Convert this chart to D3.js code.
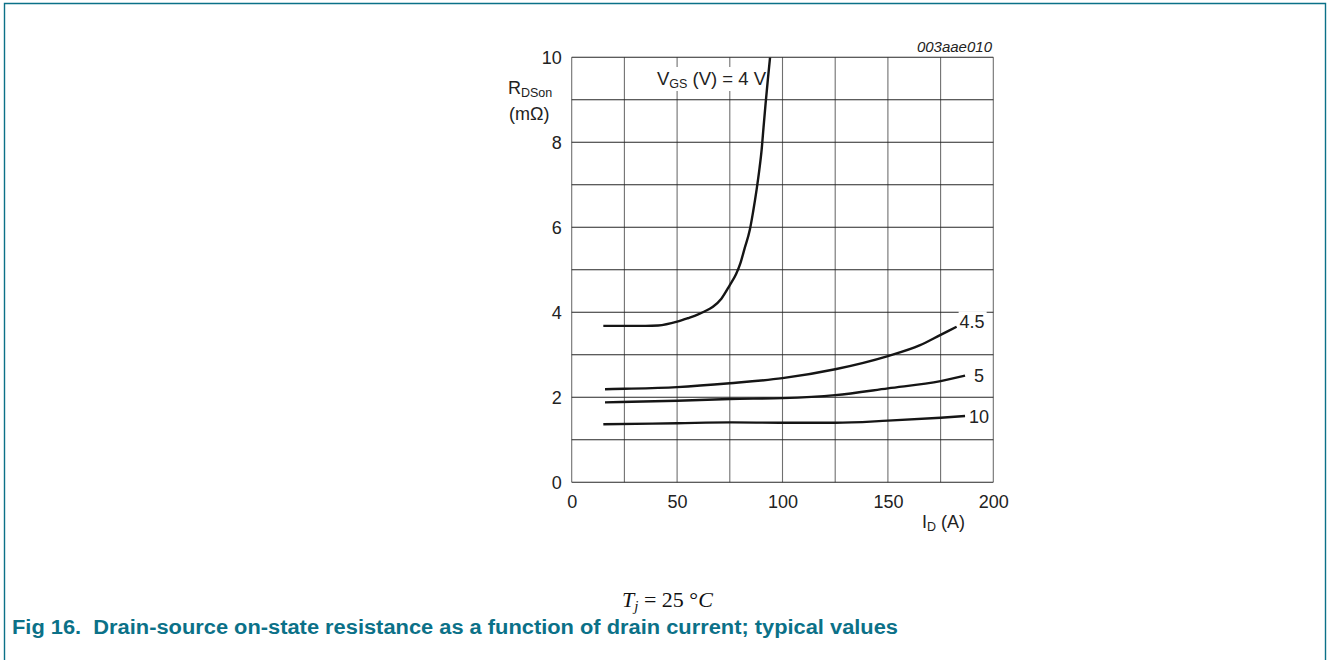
<!DOCTYPE html>
<html><head><meta charset="utf-8">
<script src="https://cdn.jsdelivr.net/npm/d3@7/dist/d3.min.js"></script>
<style>
body{margin:0;background:#fff;}
svg{display:block;font-family:"Liberation Sans",Arial,sans-serif;}
</style></head>
<body>
<svg id="c" width="1327" height="660"></svg>
<script>
// ---- data ----
const xTicks = [0, 50, 100, 150, 200];
const yTicks = [0, 2, 4, 6, 8, 10];
const xGrid = [0, 25, 50, 75, 100, 125, 150, 175, 200];
const yGrid = [0, 1, 2, 3, 4, 5, 6, 7, 8, 9, 10];

const vgs4_I = [15, 25, 35, 41, 50, 55, 60, 63, 67, 71, 75, 78, 80, 82, 84.5, 86, 87.7, 89, 90.1, 91, 92, 93, 94.1];
const vgs4_R = [3.68, 3.68, 3.68, 3.69, 3.78, 3.86, 3.95, 4.02, 4.13, 4.32, 4.64, 4.9, 5.15, 5.5, 5.94, 6.35, 6.88, 7.35, 7.82, 8.35, 8.92, 9.45, 10.0];
const vgs45_I = [15.8, 25, 50, 75, 100, 125, 150, 165, 175, 182.6];
const vgs45_R = [2.19, 2.2, 2.24, 2.33, 2.45, 2.66, 2.97, 3.22, 3.47, 3.66];
const vgs5_I = [15.8, 50, 75, 100, 125, 150, 175, 186.6];
const vgs5_R = [1.88, 1.92, 1.96, 1.98, 2.05, 2.21, 2.38, 2.51];
const vgs10_I = [15, 50, 75, 100, 125, 150, 175, 186.6];
const vgs10_R = [1.365, 1.39, 1.41, 1.40, 1.40, 1.45, 1.52, 1.56];
const seriesLabels = ["4", "4.5", "5", "10"];

// ---- drawing ----
const svg = d3.select("#c");
const teal = "#0b7188";
const FS = 18;
const SFS = 12.5;
const x = d3.scaleLinear().domain([0, 200]).range([571.7, 993.3]);
const y = d3.scaleLinear().domain([0, 10]).range([482.3, 57.3]);

// page frame
svg.append("path").attr("d", "M4.5,660 V3.5 H1325.5 V660")
  .attr("fill", "none").attr("stroke", teal).attr("stroke-width", 1.4);

const g = svg.append("g");
// grid
g.selectAll("line.v").data(xGrid).join("line")
  .attr("x1", d => x(d)).attr("x2", d => x(d)).attr("y1", y(0)).attr("y2", y(10))
  .attr("stroke", "#707070").attr("stroke-width", 1.1);
g.selectAll("line.h").data(yGrid).join("line")
  .attr("x1", x(0)).attr("x2", x(200)).attr("y1", d => y(d)).attr("y2", d => y(d))
  .attr("stroke", "#262626").attr("stroke-width", 1.1);

// axes tick labels via d3 axes (lines hidden)
const xa = g.append("g").attr("transform", `translate(0,${y(0)})`)
  .call(d3.axisBottom(x).tickValues(xTicks).tickSize(0).tickPadding(13).tickFormat(d3.format("d")));
const ya = g.append("g").attr("transform", `translate(${x(0)},0)`)
  .call(d3.axisLeft(y).tickValues(yTicks).tickSize(0).tickPadding(10).tickFormat(d3.format("d")));
[xa, ya].forEach(a => {
  a.select(".domain").remove();
  a.selectAll("text").attr("font-size", FS).attr("fill", "#222").attr("font-family", "Liberation Sans, Arial, sans-serif");
});
ya.selectAll("text").attr("dy", "0.36em");
xa.selectAll("text").attr("dy", "0.68em");

// axis titles
const yt = svg.append("text").attr("x", 508).attr("y", 93.5).attr("font-size", FS).attr("fill", "#222");
yt.append("tspan").text("R");
yt.append("tspan").attr("font-size", SFS).attr("dy", 3).text("DSon");
svg.append("text").attr("x", 509).attr("y", 120).attr("font-size", FS).attr("fill", "#222").text("(mΩ)");

const xt = svg.append("text").attr("x", 922).attr("y", 527.5).attr("font-size", FS).attr("fill", "#222");
xt.append("tspan").text("I");
xt.append("tspan").attr("font-size", SFS).attr("dy", 3).text("D");
xt.append("tspan").attr("dy", -3).text(" (A)");

svg.append("text").attr("x", 992).attr("y", 52).attr("text-anchor", "end")
  .attr("font-size", 15).attr("font-style", "italic").attr("fill", "#222").text("003aae010");

const series = [
  {I: vgs4_I, R: vgs4_R},
  {I: vgs45_I, R: vgs45_R},
  {I: vgs5_I, R: vgs5_R},
  {I: vgs10_I, R: vgs10_R}
];

// VGS label box
const lab = svg.append("g");
lab.append("rect").attr("x", 652).attr("y", 67).attr("width", 121).attr("height", 24).attr("fill", "#fff");
const vl = lab.append("text").attr("x", 657).attr("y", 84.5).attr("font-size", 18.5).attr("fill", "#222");
vl.append("tspan").text("V");
vl.append("tspan").attr("font-size", SFS).attr("dy", 3).text("GS");
vl.append("tspan").attr("dy", -3).text(" (V) = " + seriesLabels[0] + " V");

// end labels for other series
series.slice(1).forEach((s, i) => {
  const lx = x(s.I[s.I.length - 1]);
  const ly = y(s.R[s.R.length - 1]);
  const t = seriesLabels[i + 1];
  const dx = t === "4.5" ? 3 : (t === "5" ? 9 : 4);
  const dy = t === "4.5" ? 1.5 : 6.5;
  const gg = lab.append("g");
  const rect = gg.append("rect").attr("fill", "#fff");
  const tx = gg.append("text").attr("x", lx + dx).attr("y", ly + dy)
    .attr("font-size", FS).attr("fill", "#222").text(t);
  if (t === "4.5") {
    const bb = tx.node().getBBox();
    rect.attr("x", bb.x - 1).attr("y", bb.y - 1).attr("width", bb.width + 3).attr("height", bb.height + 1);
  }
});

// curves
const line = d3.line().x(d => x(d[0])).y(d => y(d[1])).curve(d3.curveMonotoneX);
series.forEach(s => {
  svg.append("path").datum(s.I.map((v, i) => [v, s.R[i]]))
    .attr("d", line).attr("fill", "none").attr("stroke", "#151515").attr("stroke-width", 2.4);
});

// conditions
const tj = svg.append("text").attr("x", 622).attr("y", 607).attr("font-size", 22)
  .attr("font-family", "Liberation Serif, Times New Roman, serif").attr("fill", "#111");
tj.append("tspan").attr("font-style", "italic").text("T");
tj.append("tspan").attr("font-style", "italic").attr("font-size", 15).attr("dy", 4).text("j");
tj.append("tspan").attr("dy", -4).text(" = 25 °");
tj.append("tspan").attr("font-style", "italic").text("C");

// caption
svg.append("text").attr("x", 12).attr("y", 634).attr("font-size", 20).attr("font-weight", "bold")
  .attr("fill", teal).attr("xml:space", "preserve")
  .attr("textLength", 886).attr("lengthAdjust", "spacingAndGlyphs")
  .text("Fig 16.  Drain-source on-state resistance as a function of drain current; typical values");
</script>
</body></html>
